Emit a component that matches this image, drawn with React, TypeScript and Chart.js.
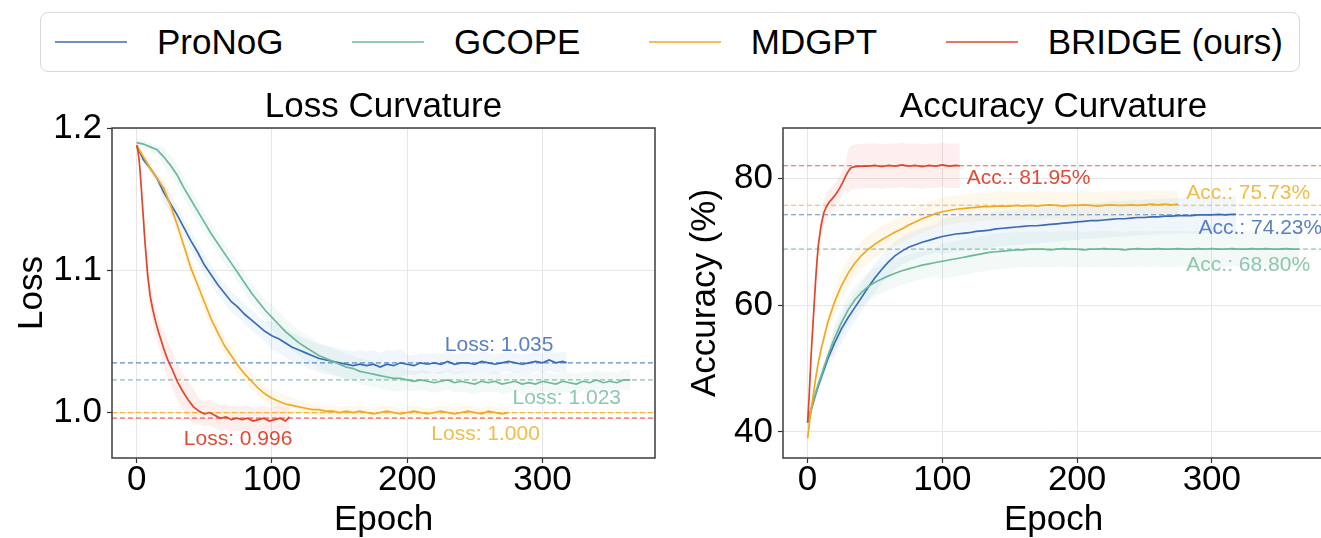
import React, { useEffect, useRef } from 'react';
import { Chart, registerables } from 'chart.js';

Chart.register(...registerables);

const FONT = "'Liberation Sans', Arial, Helvetica, sans-serif";

// ---- series meta (order: ProNoG, GCOPE, MDGPT, BRIDGE) ----
const seriesNames = ['ProNoG', 'GCOPE', 'MDGPT', 'BRIDGE (ours)'];
const seriesColors = ['#3a6db5', '#6db899', '#f0a920', '#e2452b'];
const bandColors = ['rgba(90,150,215,0.09)', 'rgba(110,190,155,0.09)', 'rgba(245,185,70,0.10)', 'rgba(235,95,75,0.10)'];
const dashColors = ['rgba(70,120,190,0.85)', 'rgba(120,185,160,0.85)', 'rgba(240,175,40,0.9)', 'rgba(226,70,50,0.85)'];
const labelColors = ['#5a80c2', '#8cc7ae', '#efbd4a', '#e04b36'];

// ---- tick labels ----
const epochTicks = [0, 100, 200, 300];
const lossTicks = [1.0, 1.1, 1.2];
const accTicks = [40, 60, 80];

// ---- final values (dashed lines) ----
const finalLoss = [1.035, 1.023, 1.0, 0.996];
const finalAcc = [74.23, 68.8, 75.73, 81.95];

// ---- annotation anchors (data coordinates) ----
const lossLabelEpoch = [268, 318, 258, 75];
const lossLabelValue = [1.0472, 1.0099, 0.9845, 0.981];
const accLabelEpoch = [336, 327, 327, 164];
const accLabelValue = [72.1, 66.3, 77.6, 80.0];

// ---- Loss: ProNoG ----
const pronogLossEpochs = [0, 5, 10, 15, 20, 25, 30, 35, 40, 45, 50, 55, 60, 65, 70, 75, 80, 85, 90, 95, 100, 105, 110, 115, 120, 125, 130, 135, 140, 145, 150, 155, 160, 165, 170, 175, 180, 185, 190, 195, 200, 205, 210, 215, 220, 225, 230, 235, 240, 245, 250, 255, 260, 265, 270, 275, 280, 285, 290, 295, 300, 305, 310, 315, 318];
const pronogLoss = [1.188, 1.178, 1.172, 1.165, 1.155, 1.147, 1.139, 1.130, 1.121, 1.113, 1.104, 1.097, 1.090, 1.084, 1.078, 1.074, 1.069, 1.065, 1.061, 1.057, 1.054, 1.052, 1.049, 1.046, 1.044, 1.042, 1.040, 1.038, 1.037, 1.036, 1.035, 1.034, 1.033, 1.034, 1.033, 1.034, 1.032, 1.034, 1.033, 1.035, 1.034, 1.033, 1.035, 1.034, 1.035, 1.034, 1.036, 1.034, 1.035, 1.035, 1.034, 1.036, 1.035, 1.034, 1.035, 1.036, 1.035, 1.034, 1.035, 1.036, 1.035, 1.037, 1.035, 1.036, 1.035];

// ---- Loss: GCOPE ----
const gcopeLossEpochs = [0, 5, 10, 15, 20, 25, 30, 35, 40, 45, 50, 55, 60, 65, 70, 75, 80, 85, 90, 95, 100, 105, 110, 115, 120, 125, 130, 135, 140, 145, 150, 155, 160, 165, 170, 175, 180, 185, 190, 195, 200, 205, 210, 215, 220, 225, 230, 235, 240, 245, 250, 255, 260, 265, 270, 275, 280, 285, 290, 295, 300, 305, 310, 315, 320, 325, 330, 335, 340, 345, 350, 355, 360, 365];
const gcopeLoss = [1.190, 1.189, 1.187, 1.185, 1.180, 1.174, 1.167, 1.158, 1.150, 1.142, 1.134, 1.126, 1.119, 1.112, 1.105, 1.098, 1.091, 1.084, 1.078, 1.072, 1.067, 1.062, 1.057, 1.053, 1.049, 1.046, 1.043, 1.040, 1.038, 1.036, 1.034, 1.032, 1.031, 1.029, 1.028, 1.027, 1.026, 1.025, 1.024, 1.024, 1.023, 1.022, 1.023, 1.022, 1.021, 1.022, 1.023, 1.021, 1.022, 1.021, 1.020, 1.022, 1.021, 1.022, 1.020, 1.021, 1.022, 1.020, 1.021, 1.020, 1.022, 1.021, 1.020, 1.022, 1.021, 1.020, 1.022, 1.021, 1.023, 1.021, 1.022, 1.021, 1.023, 1.023];

// ---- Loss: MDGPT ----
const mdgptLossEpochs = [0, 5, 10, 15, 20, 25, 30, 35, 40, 45, 50, 55, 60, 65, 70, 75, 80, 85, 90, 95, 100, 105, 110, 115, 120, 125, 130, 135, 140, 145, 150, 155, 160, 165, 170, 175, 180, 185, 190, 195, 200, 205, 210, 215, 220, 225, 230, 235, 240, 245, 250, 255, 260, 265, 270, 275];
const mdgptLoss = [1.188, 1.180, 1.172, 1.165, 1.158, 1.146, 1.132, 1.117, 1.102, 1.090, 1.078, 1.066, 1.056, 1.047, 1.040, 1.033, 1.027, 1.022, 1.017, 1.013, 1.010, 1.008, 1.006, 1.005, 1.004, 1.003, 1.002, 1.002, 1.001, 1.001, 1.000, 1.001, 1.000, 1.001, 1.000, 0.999, 1.000, 1.001, 1.000, 0.999, 1.000, 1.001, 1.000, 0.999, 1.000, 1.001, 1.000, 0.999, 1.000, 1.001, 1.000, 0.999, 1.001, 1.000, 0.999, 1.000];

// ---- Loss: BRIDGE ----
const bridgeLossEpochs = [0, 1, 2, 3, 4, 5, 6, 7, 8, 9, 10, 12, 14, 16, 18, 20, 23, 26, 30, 34, 38, 42, 46, 50, 54, 58, 62, 66, 70, 74, 78, 82, 86, 90, 94, 98, 102, 106, 110, 113];
const bridgeLoss = [1.188, 1.184, 1.176, 1.164, 1.150, 1.136, 1.122, 1.110, 1.098, 1.090, 1.082, 1.072, 1.064, 1.057, 1.051, 1.045, 1.037, 1.031, 1.022, 1.015, 1.009, 1.004, 1.001, 0.999, 1.000, 0.998, 0.996, 0.997, 0.995, 0.996, 0.995, 0.996, 0.994, 0.995, 0.996, 0.994, 0.995, 0.996, 0.994, 0.997];

// ---- Accuracy: ProNoG ----
const pronogAccEpochs = [0, 2, 4, 6, 8, 10, 15, 20, 25, 30, 35, 40, 45, 50, 55, 60, 65, 70, 75, 80, 85, 90, 95, 100, 105, 110, 115, 120, 125, 130, 135, 140, 145, 150, 155, 160, 165, 170, 175, 180, 185, 190, 195, 200, 205, 210, 215, 220, 225, 230, 235, 240, 245, 250, 255, 260, 265, 270, 275, 280, 285, 290, 295, 300, 305, 310, 315, 318];
const pronogAcc = [41.5, 43.0, 44.5, 46.0, 47.3, 48.5, 51.5, 54.0, 56.2, 58.0, 59.6, 61.2, 62.8, 64.3, 65.6, 66.8, 67.8, 68.5, 69.1, 69.5, 69.9, 70.2, 70.5, 70.8, 71.0, 71.2, 71.3, 71.4, 71.6, 71.7, 71.8, 72.0, 72.1, 72.2, 72.3, 72.4, 72.5, 72.5, 72.6, 72.7, 72.8, 72.9, 73.0, 73.1, 73.2, 73.3, 73.3, 73.4, 73.5, 73.6, 73.6, 73.7, 73.8, 73.8, 73.9, 73.9, 74.0, 74.0, 74.1, 74.1, 74.1, 74.2, 74.2, 74.2, 74.3, 74.2, 74.3, 74.3];

// ---- Accuracy: GCOPE ----
const gcopeAccEpochs = [0, 2, 4, 6, 8, 10, 15, 20, 25, 30, 35, 40, 45, 50, 55, 60, 65, 70, 75, 80, 85, 90, 95, 100, 105, 110, 115, 120, 125, 130, 135, 140, 145, 150, 155, 160, 165, 170, 175, 180, 185, 190, 195, 200, 205, 210, 215, 220, 225, 230, 235, 240, 245, 250, 255, 260, 265, 270, 275, 280, 285, 290, 295, 300, 305, 310, 315, 320, 325, 330, 335, 340, 345, 350, 355, 360, 365];
const gcopeAcc = [41.5, 43.2, 44.7, 46.2, 47.6, 48.8, 52.0, 54.8, 57.2, 59.2, 60.8, 62.0, 62.9, 63.6, 64.1, 64.6, 65.0, 65.4, 65.7, 66.0, 66.3, 66.5, 66.7, 66.9, 67.1, 67.3, 67.5, 67.7, 67.9, 68.1, 68.3, 68.4, 68.5, 68.6, 68.7, 68.7, 68.8, 68.8, 68.8, 68.7, 68.8, 68.9, 68.8, 68.8, 68.7, 68.8, 68.8, 68.9, 68.8, 68.8, 68.7, 68.8, 68.9, 68.8, 68.8, 68.9, 68.8, 68.8, 68.9, 68.8, 68.8, 68.9, 68.8, 68.9, 68.8, 68.8, 68.9, 68.8, 68.8, 68.9, 68.8, 68.9, 68.8, 68.8, 68.9, 68.8, 68.8];

// ---- Accuracy: MDGPT ----
const mdgptAccEpochs = [0, 2, 4, 6, 8, 10, 15, 20, 25, 30, 35, 40, 45, 50, 55, 60, 65, 70, 75, 80, 85, 90, 95, 100, 105, 110, 115, 120, 125, 130, 135, 140, 145, 150, 155, 160, 165, 170, 175, 180, 185, 190, 195, 200, 205, 210, 215, 220, 225, 230, 235, 240, 245, 250, 255, 260, 265, 270, 275];
const mdgptAcc = [39.0, 42.5, 45.5, 48.5, 51.0, 53.0, 57.3, 60.5, 63.0, 65.0, 66.6, 67.8, 68.8, 69.6, 70.3, 70.9, 71.5, 72.0, 72.6, 73.1, 73.6, 74.0, 74.4, 74.7, 74.9, 75.1, 75.2, 75.3, 75.4, 75.5, 75.5, 75.6, 75.6, 75.6, 75.7, 75.6, 75.7, 75.6, 75.7, 75.8, 75.7, 75.6, 75.7, 75.7, 75.8, 75.7, 75.6, 75.7, 75.8, 75.7, 75.7, 75.8, 75.7, 75.8, 75.9, 75.8, 75.9, 75.8, 75.9];

// ---- Accuracy: BRIDGE ----
const bridgeAccEpochs = [0, 1, 2, 3, 4, 5, 6, 7, 8, 10, 12, 14, 16, 18, 20, 22, 24, 26, 28, 30, 32, 35, 40, 45, 50, 55, 60, 65, 70, 75, 80, 85, 90, 95, 100, 105, 110, 113];
const bridgeAcc = [41.5, 45.0, 49.5, 53.5, 57.0, 60.5, 64.0, 67.0, 69.5, 72.5, 74.5, 75.5, 76.2, 76.7, 77.2, 77.8, 78.5, 79.3, 80.2, 81.0, 81.6, 81.8, 81.9, 81.9, 82.0, 81.8, 82.0, 81.9, 82.1, 81.9, 82.0, 81.8, 82.0, 81.9, 82.1, 81.9, 82.0, 81.95];

// ---- raw-noise spread (half width of faint band), [fromEpoch, halfWidth] ----
const pronogLossSpread = [[0, 0.003], [20, 0.007], [100, 0.010], [200, 0.007]];
const gcopeLossSpread = [[0, 0.003], [20, 0.007], [100, 0.009], [200, 0.007]];
const mdgptLossSpread = [[0, 0.003], [20, 0.006], [120, 0.004]];
const bridgeLossSpread = [[0, 0.003], [5, 0.010], [20, 0.013], [45, 0.009]];
const pronogAccSpread = [[0, 1], [20, 2.2], [100, 2.8]];
const gcopeAccSpread = [[0, 1], [20, 2.2], [100, 2.8]];
const mdgptAccSpread = [[0, 1], [20, 2.2]];
const bridgeAccSpread = [[0, 1], [10, 2], [30, 3.5]];

const X_MIN = -18.25;
const X_MAX = 383.25;

type Series = { epochs: number[]; values: number[]; spread: number[][] };

const lossSeries: Series[] = [
  { epochs: pronogLossEpochs, values: pronogLoss, spread: pronogLossSpread },
  { epochs: gcopeLossEpochs, values: gcopeLoss, spread: gcopeLossSpread },
  { epochs: mdgptLossEpochs, values: mdgptLoss, spread: mdgptLossSpread },
  { epochs: bridgeLossEpochs, values: bridgeLoss, spread: bridgeLossSpread },
];
const accSeries: Series[] = [
  { epochs: pronogAccEpochs, values: pronogAcc, spread: pronogAccSpread },
  { epochs: gcopeAccEpochs, values: gcopeAcc, spread: gcopeAccSpread },
  { epochs: mdgptAccEpochs, values: mdgptAcc, spread: mdgptAccSpread },
  { epochs: bridgeAccEpochs, values: bridgeAcc, spread: bridgeAccSpread },
];

function spreadAt(table: number[][], e: number) {
  let h = table[0][1];
  for (const [ep, v] of table) if (e >= ep) h = v;
  return h;
}

function buildDatasets(series: Series[], finals: number[]) {
  const lines: any[] = [];
  const dashes: any[] = [];
  const bands: any[] = [];
  const drawOrder = [3, 2, 1, 0]; // BRIDGE on top
  drawOrder.forEach((i) => {
    const s = series[i];
    lines.push({
      label: seriesNames[i],
      data: s.epochs.map((x, k) => ({ x, y: s.values[k] })),
      borderColor: seriesColors[i],
      borderWidth: 1.7,
      pointRadius: 0,
      fill: false,
      order: 0,
    });
  });
  drawOrder.forEach((i) => {
    dashes.push({
      label: seriesNames[i] + ' final',
      data: [{ x: X_MIN, y: finals[i] }, { x: X_MAX, y: finals[i] }],
      borderColor: dashColors[i],
      borderWidth: 1.2,
      borderDash: [5, 3],
      pointRadius: 0,
      fill: false,
      order: 1,
    });
  });
  [0, 1, 2, 3].forEach((i) => {
    const s = series[i];
    bands.push({
      label: seriesNames[i] + ' hi',
      data: s.epochs.map((x, k) => ({ x, y: s.values[k] + spreadAt(s.spread, x) })),
      borderWidth: 0,
      pointRadius: 0,
      backgroundColor: bandColors[i],
      fill: '+1',
      order: 2,
    });
    bands.push({
      label: seriesNames[i] + ' lo',
      data: s.epochs.map((x, k) => ({ x, y: s.values[k] - spreadAt(s.spread, x) })),
      borderWidth: 0,
      pointRadius: 0,
      fill: false,
      order: 2,
    });
  });
  return [...lines, ...dashes, ...bands];
}

const framePlugin = {
  id: 'frame',
  afterDatasetsDraw(chart: any) {
    const { ctx, chartArea: a } = chart;
    ctx.save();
    ctx.strokeStyle = '#3d3d3d';
    ctx.lineWidth = 1.5;
    ctx.strokeRect(a.left, a.top, a.right - a.left, a.bottom - a.top);
    ctx.restore();
  },
};

const labelPlugin = {
  id: 'finalLabels',
  afterDatasetsDraw(chart: any, _args: any, opts: any) {
    const { ctx, scales } = chart;
    ctx.save();
    ctx.font = `21px ${FONT}`;
    ctx.textAlign = 'center';
    ctx.textBaseline = 'middle';
    (opts.items || []).forEach((it: any) => {
      ctx.fillStyle = it.color;
      ctx.fillText(it.text, scales.x.getPixelForValue(it.x), scales.y.getPixelForValue(it.y));
    });
    ctx.restore();
  },
};

type PlotSpec = {
  title: string;
  yTitle: string;
  series: Series[];
  finals: number[];
  yMin: number;
  yMax: number;
  yTicks: number[];
  yFmt: (v: number) => string;
  yWidth: number;
  yTitlePad: number;
  padRight: number;
  labels: { text: string; x: number; y: number; color: string }[];
};

function makeConfig(p: PlotSpec): any {
  const tickFont = { family: FONT, size: 35, lineHeight: 1 };
  return {
    type: 'line',
    data: { datasets: buildDatasets(p.series, p.finals) },
    plugins: [framePlugin, labelPlugin],
    options: {
      responsive: false,
      animation: false,
      events: [],
      layout: { padding: { left: 0, right: p.padRight, top: 0, bottom: 0 } },
      plugins: {
        legend: { display: false },
        tooltip: { enabled: false },
        title: {
          display: true,
          text: p.title,
          fullSize: false,
          color: '#000',
          font: { family: FONT, size: 35, weight: 'normal', lineHeight: 1.2 },
          padding: { top: 7, bottom: 0 },
        },
        finalLabels: { items: p.labels },
      },
      scales: {
        x: {
          type: 'linear',
          min: X_MIN,
          max: X_MAX,
          afterBuildTicks: (a: any) => {
            a.ticks = epochTicks.map((v) => ({ value: v }));
          },
          afterFit: (s: any) => {
            s.height = 80;
          },
          grid: { color: '#e6e6e6', lineWidth: 1, tickColor: '#333', tickLength: 5, tickWidth: 1.2 },
          border: { display: false },
          ticks: {
            color: '#000',
            padding: 0,
            maxRotation: 0,
            autoSkip: false,
            font: tickFont,
            callback: (v: number) => String(v),
          },
          title: {
            display: true,
            text: 'Epoch',
            color: '#000',
            font: { family: FONT, size: 35, lineHeight: 1 },
            padding: { top: 0, bottom: 0 },
          },
        },
        y: {
          type: 'linear',
          min: p.yMin,
          max: p.yMax,
          afterBuildTicks: (a: any) => {
            a.ticks = p.yTicks.map((v) => ({ value: v }));
          },
          afterFit: (s: any) => {
            s.width = p.yWidth;
          },
          grid: { color: '#e6e6e6', lineWidth: 1, tickColor: '#333', tickLength: 5, tickWidth: 1.2 },
          border: { display: false },
          ticks: {
            color: '#000',
            padding: 5,
            autoSkip: false,
            font: tickFont,
            callback: (v: number) => p.yFmt(v),
          },
          title: {
            display: true,
            text: p.yTitle,
            color: '#000',
            font: { family: FONT, size: 35, lineHeight: 1 },
            padding: { top: p.yTitlePad, bottom: 0 },
          },
        },
      },
    },
  };
}

const lossSpec: PlotSpec = {
  title: 'Loss Curvature',
  yTitle: 'Loss',
  series: lossSeries,
  finals: finalLoss,
  yMin: 0.968,
  yMax: 1.2003,
  yTicks: lossTicks,
  yFmt: (v) => v.toFixed(1),
  yWidth: 112,
  yTitlePad: 15,
  padRight: 5,
  labels: finalLoss.map((v, i) => ({
    text: 'Loss: ' + v.toFixed(3),
    x: lossLabelEpoch[i],
    y: lossLabelValue[i],
    color: labelColors[i],
  })),
};

const accSpec: PlotSpec = {
  title: 'Accuracy Curvature',
  yTitle: 'Accuracy (%)',
  series: accSeries,
  finals: finalAcc,
  yMin: 35.9,
  yMax: 87.9,
  yTicks: accTicks,
  yFmt: (v) => String(Math.round(v)),
  yWidth: 103,
  yTitlePad: 8,
  padRight: 6,
  labels: finalAcc.map((v, i) => ({
    text: 'Acc.: ' + v.toFixed(2) + '%',
    x: accLabelEpoch[i],
    y: accLabelValue[i],
    color: labelColors[i],
  })),
};

function PlotCanvas({ spec, left, top, width, height }: { spec: PlotSpec; left: number; top: number; width: number; height: number }) {
  const ref = useRef<HTMLCanvasElement>(null);
  useEffect(() => {
    const chart = new Chart(ref.current as HTMLCanvasElement, makeConfig(spec));
    return () => chart.destroy();
  }, [spec]);
  return (
    <canvas
      ref={ref}
      width={width}
      height={height}
      style={{ position: 'absolute', left, top, width, height }}
    />
  );
}

function Legend() {
  return (
    <div
      style={{
        position: 'absolute',
        left: 40,
        top: 12,
        width: 1260,
        height: 60,
        boxSizing: 'border-box',
        border: '1.5px solid #d9d9d9',
        borderRadius: 8,
        display: 'flex',
        alignItems: 'center',
        justifyContent: 'space-between',
        padding: '0 16px 0 14px',
        fontFamily: FONT,
        background: '#fff',
      }}
    >
      {seriesNames.map((name, i) => (
        <div key={name} style={{ display: 'flex', alignItems: 'center' }}>
          <span style={{ display: 'inline-block', width: 72, height: 2, background: seriesColors[i], opacity: 0.75 }} />
          <span style={{ marginLeft: 30, fontSize: 35, lineHeight: '40px', color: '#000' }}>{name}</span>
        </div>
      ))}
    </div>
  );
}

export default function App() {
  return (
    <div
      style={{
        position: 'absolute',
        left: 0,
        top: 0,
        width: 1321,
        height: 538,
        overflow: 'hidden',
        background: '#fff',
      }}
    >
      <Legend />
      <PlotCanvas spec={lossSpec} left={0} top={79} width={660} height={459} />
      <PlotCanvas spec={accSpec} left={680} top={79} width={650} height={459} />
    </div>
  );
}
